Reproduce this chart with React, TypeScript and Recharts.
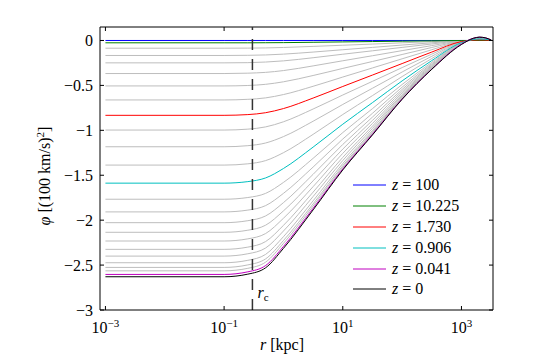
import React from "react";
import { LineChart, Line, XAxis, YAxis, ReferenceLine, Legend, Label } from "recharts";

// radius samples [kpc]
const radii = [0.001, 0.1, 0.251, 0.501, 1, 3.16, 10, 31.6, 100, 316, 1000, 1585, 1995, 2512, 3162];

// potential curves phi [(100 km/s)^2] at each radius
const blueZ100 = [0, 0, 0, 0, 0, 0, 0, 0, 0, 0, 0, 0, 0, 0, 0];
const greenZ10 = [-0.026, -0.026, -0.026, -0.025, -0.024, -0.02, -0.016, -0.012, -0.008, -0.004, 0, 0, 0, 0, 0];
const redZ173 = [-0.833, -0.833, -0.825, -0.804, -0.758, -0.641, -0.512, -0.385, -0.257, -0.129, -0.012, 0.004, 0.007, 0.005, 0.001];
const cyanZ09 = [-1.588, -1.588, -1.571, -1.53, -1.425, -1.187, -0.932, -0.692, -0.45, -0.224, -0.024, 0.011, 0.017, 0.014, 0.003];
const magentaZ004 = [-2.604, -2.604, -2.575, -2.505, -2.293, -1.869, -1.43, -1.044, -0.651, -0.319, -0.039, 0.024, 0.036, 0.029, 0.005];
const blackZ0 = [-2.63, -2.63, -2.601, -2.53, -2.314, -1.886, -1.441, -1.052, -0.655, -0.321, -0.045, 0.024, 0.037, 0.03, 0.005];

const grayCurves = [
  [-0.086, -0.086, -0.085, -0.083, -0.078, -0.066, -0.053, -0.04, -0.026, -0.013, -0.001, 0, 0, 0, 0],
  [-0.167, -0.167, -0.165, -0.161, -0.152, -0.129, -0.103, -0.077, -0.051, -0.026, -0.003, 0.001, 0.001, 0.001, 0],
  [-0.249, -0.249, -0.247, -0.24, -0.227, -0.192, -0.153, -0.115, -0.077, -0.039, -0.004, 0.001, 0.001, 0.001, 0],
  [-0.368, -0.368, -0.364, -0.355, -0.335, -0.283, -0.226, -0.17, -0.113, -0.057, -0.006, 0.001, 0.002, 0.002, 0],
  [-0.506, -0.506, -0.501, -0.488, -0.46, -0.39, -0.311, -0.234, -0.156, -0.078, -0.008, 0.002, 0.003, 0.002, 0],
  [-0.662, -0.662, -0.655, -0.639, -0.602, -0.51, -0.407, -0.306, -0.204, -0.103, -0.01, 0.003, 0.005, 0.004, 0.001],
  [-0.997, -0.997, -0.987, -0.962, -0.905, -0.763, -0.607, -0.455, -0.302, -0.152, -0.015, 0.006, 0.009, 0.007, 0.001],
  [-1.183, -1.183, -1.171, -1.141, -1.07, -0.899, -0.712, -0.532, -0.351, -0.176, -0.018, 0.007, 0.011, 0.009, 0.002],
  [-1.387, -1.387, -1.373, -1.337, -1.249, -1.045, -0.824, -0.614, -0.402, -0.201, -0.021, 0.009, 0.014, 0.011, 0.002],
  [-1.767, -1.767, -1.748, -1.702, -1.58, -1.312, -1.025, -0.759, -0.49, -0.243, -0.027, 0.013, 0.02, 0.016, 0.003],
  [-1.908, -1.908, -1.888, -1.838, -1.702, -1.409, -1.097, -0.811, -0.52, -0.258, -0.029, 0.015, 0.023, 0.018, 0.003],
  [-2.028, -2.028, -2.006, -1.953, -1.805, -1.49, -1.157, -0.853, -0.545, -0.27, -0.03, 0.016, 0.025, 0.02, 0.004],
  [-2.135, -2.135, -2.112, -2.056, -1.897, -1.562, -1.209, -0.89, -0.566, -0.28, -0.032, 0.018, 0.027, 0.022, 0.004],
  [-2.232, -2.232, -2.208, -2.149, -1.979, -1.627, -1.256, -0.924, -0.585, -0.289, -0.033, 0.019, 0.029, 0.023, 0.004],
  [-2.325, -2.325, -2.3, -2.238, -2.058, -1.688, -1.301, -0.954, -0.602, -0.297, -0.035, 0.02, 0.031, 0.025, 0.005],
  [-2.4, -2.4, -2.374, -2.31, -2.121, -1.737, -1.336, -0.979, -0.616, -0.303, -0.036, 0.021, 0.032, 0.026, 0.005],
  [-2.474, -2.474, -2.447, -2.381, -2.184, -1.785, -1.37, -1.003, -0.629, -0.309, -0.037, 0.022, 0.034, 0.027, 0.005],
  [-2.526, -2.526, -2.498, -2.431, -2.227, -1.819, -1.394, -1.019, -0.638, -0.313, -0.038, 0.023, 0.035, 0.028, 0.005],
  [-2.564, -2.564, -2.536, -2.467, -2.259, -1.843, -1.411, -1.031, -0.644, -0.316, -0.038, 0.023, 0.036, 0.029, 0.005],
];

const coloredSeries = [
  { key: "blue", label: "100", values: blueZ100, color: "#0000ff" },
  { key: "green", label: "10.225", values: greenZ10, color: "#008000" },
  { key: "red", label: "1.730", values: redZ173, color: "#ff0000" },
  { key: "cyan", label: "0.906", values: cyanZ09, color: "#00bfbf" },
  { key: "magenta", label: "0.041", values: magentaZ004, color: "#bf00bf" },
  { key: "black", label: "0", values: blackZ0, color: "#000000" },
];

const xTicks = [0.001, 0.1, 10, 1000];
const yTicks = [-3, -2.5, -2, -1.5, -1, -0.5, 0];
const rCore = 0.3;

const data = radii.map((r, i) => {
  const row: Record<string, number> = { r };
  grayCurves.forEach((c, j) => {
    row["g" + j] = c[i];
  });
  coloredSeries.forEach((s) => {
    row[s.key] = s.values[i];
  });
  return row;
});

const FONT = "Liberation Serif, Tinos, Times New Roman, DejaVu Serif, Noto Serif, serif";
const PLOT_LEFT = 100;
const PLOT_RIGHT = 493;
const PLOT_TOP = 27;
const PLOT_BOTTOM = 310;
const W = 545;
const H = 357;
const Y_AXIS_W = 60;
const X_AXIS_H = 30;

const fmtNum = (v: number) => (v < 0 ? "\u2212" + String(Math.abs(v)) : String(v));

const XTick = (props: any) => {
  const { x, y, payload } = props;
  const e = Math.round(Math.log10(payload.value));
  return (
    <g>
      <line x1={x} x2={x} y1={y} y2={y - 4} stroke="#000" strokeWidth={1} />
      <line x1={x} x2={x} y1={PLOT_TOP} y2={PLOT_TOP + 4} stroke="#000" strokeWidth={1} />
      <text x={x} y={y + 23} textAnchor="middle" style={{ fontFamily: FONT }} fontSize={16} fill="#000">
        10
        <tspan dy={-6} fontSize={11}>{fmtNum(e)}</tspan>
      </text>
    </g>
  );
};

const YTick = (props: any) => {
  const { x, y, payload } = props;
  return (
    <g>
      <line x1={x} x2={x + 4} y1={y} y2={y} stroke="#000" strokeWidth={1} />
      <line x1={PLOT_RIGHT - 4} x2={PLOT_RIGHT} y1={y} y2={y} stroke="#000" strokeWidth={1} />
      <text x={x - 7} y={y + 5.5} textAnchor="end" style={{ fontFamily: FONT }} fontSize={16} fill="#000">
        {fmtNum(payload.value)}
      </text>
    </g>
  );
};

const YLabel = () => (
  <text
    x={50}
    y={176}
    transform="rotate(-90, 50, 176)"
    textAnchor="middle"
    style={{ fontFamily: FONT }}
    fontSize={16}
    fill="#000"
  >
    <tspan fontStyle="italic">φ</tspan> [(100 km/s)
    <tspan dy={-6} fontSize={11}>2</tspan>
    <tspan dy={6}>]</tspan>
  </text>
);

const XLabel = () => (
  <text x={282} y={350} textAnchor="middle" style={{ fontFamily: FONT }} fontSize={16} fill="#000">
    <tspan fontStyle="italic">r</tspan> [kpc]
  </text>
);

const CoreLabel = (props: any) => {
  const vb = props.viewBox || {};
  const x = vb.x ?? 252;
  return (
    <text x={x + 5} y={PLOT_BOTTOM - 12} style={{ fontFamily: FONT }} fontSize={16} fill="#000">
      <tspan fontStyle="italic">r</tspan>
      <tspan dy={3} fontSize={11}>c</tspan>
    </text>
  );
};

const LegendContent = () => (
  <div style={{ fontFamily: FONT, fontSize: 16, color: "#000" }}>
    {coloredSeries.map((s) => (
      <div key={s.key} style={{ height: 20.9, display: "flex", alignItems: "center" }}>
        <svg width={40} height={10} style={{ display: "block" }}>
          <line x1={1} x2={34} y1={5} y2={5} stroke={s.color} strokeWidth={1} />
        </svg>
        <span style={{ whiteSpace: "nowrap", lineHeight: "20px" }}>
          <i>z</i> = {s.label}
        </span>
      </div>
    ))}
  </div>
);

export default function App() {
  return (
    <div style={{ position: "absolute", left: 0, top: 0, width: W, height: H, background: "#fff", fontFamily: FONT }}>
      <LineChart
        width={W}
        height={H}
        data={data}
        margin={{
          top: PLOT_TOP,
          right: W - PLOT_RIGHT,
          bottom: H - PLOT_BOTTOM - X_AXIS_H,
          left: PLOT_LEFT - Y_AXIS_W,
        }}
      >
        <XAxis
          dataKey="r"
          type="number"
          scale="log"
          domain={[0.00081, 3400]}
          allowDataOverflow
          ticks={xTicks}
          tick={<XTick />}
          tickLine={false}
          tickSize={0}
          tickMargin={0}
          height={X_AXIS_H}
          axisLine={{ stroke: "#000" }}
          interval={0}
        >
          <Label content={<XLabel />} />
        </XAxis>
        <YAxis
          type="number"
          domain={[-3, 0.15]}
          allowDataOverflow
          ticks={yTicks}
          tick={<YTick />}
          tickLine={false}
          tickSize={0}
          tickMargin={0}
          width={Y_AXIS_W}
          axisLine={{ stroke: "#000" }}
          interval={0}
        >
          <Label content={<YLabel />} />
        </YAxis>
        <ReferenceLine y={0.15} stroke="#000" strokeWidth={1} ifOverflow="extendDomain" />
        <ReferenceLine x={3400} stroke="#000" strokeWidth={1} ifOverflow="extendDomain" />
        {grayCurves.map((_, j) => (
          <Line
            key={"g" + j}
            dataKey={"g" + j}
            type="monotone"
            stroke="#bdbdbd"
            strokeWidth={1}
            dot={false}
            activeDot={false}
            isAnimationActive={false}
            legendType="none"
          />
        ))}
        {coloredSeries.map((s) => (
          <Line
            key={s.key}
            dataKey={s.key}
            type="monotone"
            stroke={s.color}
            strokeWidth={1}
            dot={false}
            activeDot={false}
            isAnimationActive={false}
          />
        ))}
        <ReferenceLine
          x={rCore}
          stroke="#333"
          strokeWidth={1.5}
          strokeDasharray="11 9"
          label={<CoreLabel />}
        />
        <Legend
          layout="vertical"
          align="center"
          verticalAlign="middle"
          content={<LegendContent />}
          wrapperStyle={{ left: 352, top: 174.5, width: 160, height: 130, position: "absolute" }}
        />
      </LineChart>
    </div>
  );
}
